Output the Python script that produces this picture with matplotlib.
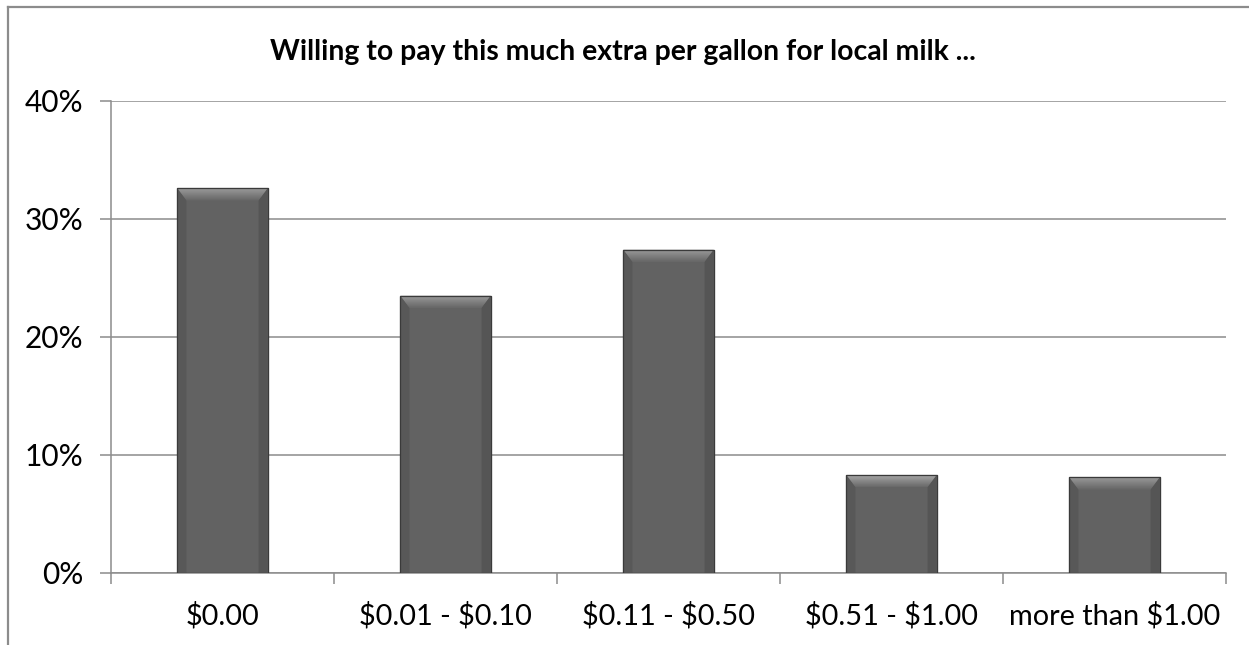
import matplotlib
matplotlib.use('Agg')
import matplotlib.pyplot as plt
import numpy as np
from matplotlib.patches import Polygon, Rectangle
from matplotlib.lines import Line2D

categories = ['$0.00', '$0.01 - $0.10', '$0.11 - $0.50', '$0.51 - $1.00', 'more than $1.00']
shares = [32.6, 23.5, 27.4, 8.3, 8.1]
yticks = [0, 10, 20, 30, 40]
title = 'Willing to pay this much extra per gallon for local milk ...'

plt.rcParams['font.family'] = ['Lato', 'DejaVu Sans']
plt.rcParams['text.parse_math'] = False

W, H, DPI = 1249, 645, 100
fig = plt.figure(figsize=(W / DPI, H / DPI), dpi=DPI)
ax = fig.add_axes([111 / W, 1 - 573 / H, (1226 - 111) / W, (573 - 101) / H])

ymax = 40
nbar = len(categories)
ax.set_xlim(-0.5, nbar - 0.5)
ax.set_ylim(0, ymax)

# pixel size in data units, used for the bevel on each bar
ax_w_px = 1226 - 111
ax_h_px = 573 - 101
px_x = nbar / ax_w_px
px_y = ymax / ax_h_px

bar_w = 0.404
body = '#626262'
x = np.arange(nbar)
ax.bar(x, shares, width=bar_w, color=body, edgecolor='#3c3c3c', linewidth=0.8, zorder=3)

bev_x = 9 * px_x
bev_y = 12 * px_y
for xi, h in zip(x, shares):
    x0, x1 = xi - bar_w / 2, xi + bar_w / 2
    # slightly darker side strips
    ax.add_patch(Polygon([(x0, 0), (x0, h), (x0 + bev_x, h - bev_y), (x0 + bev_x, 0)],
                         closed=True, facecolor='#585858', edgecolor='none', zorder=4))
    ax.add_patch(Polygon([(x1, 0), (x1, h), (x1 - bev_x, h - bev_y), (x1 - bev_x, 0)],
                         closed=True, facecolor='#555555', edgecolor='none', zorder=4))
    # top bevel with a light-to-dark gradient
    n = 12
    shades = np.linspace(0.66, 0.42, n)
    for k in range(n):
        ya = h - bev_y * k / n
        yb = h - bev_y * (k + 1) / n
        da = bev_x * k / n
        db = bev_x * (k + 1) / n
        ax.add_patch(Polygon([(x0 + da, ya), (x1 - da, ya), (x1 - db, yb), (x0 + db, yb)],
                             closed=True, facecolor=str(shades[k]), edgecolor='none', zorder=5))
    ax.add_patch(Rectangle((x0, 0), bar_w, h, facecolor='none', edgecolor='#3a3a3a',
                           linewidth=0.9, zorder=6))

ax.set_yticks(yticks)
ax.set_yticklabels(['{}%'.format(v) for v in yticks])
ax.yaxis.grid(True, color='#8c8c8c', linewidth=1.1, zorder=0)
ax.set_axisbelow(True)

ax.set_xticks(x)
ax.set_xticklabels(categories)
ax.set_xticks(np.arange(-0.5, nbar, 1), minor=True)
ax.tick_params(axis='x', which='major', length=0, pad=21, labelsize=20.8, colors='black')
ax.tick_params(axis='x', which='minor', length=8, width=1.1, color='#8c8c8c', direction='out')
ax.tick_params(axis='y', length=8, width=1.1, color='#8c8c8c', pad=12, labelsize=21.5)

for side in ['top', 'right']:
    ax.spines[side].set_visible(False)
for side in ['left', 'bottom']:
    ax.spines[side].set_color('#8c8c8c')
    ax.spines[side].set_linewidth(1.1)

fig.text(0.499, 1 - 52 / H, title, ha='center', va='center', fontsize=20.4, fontweight='bold')

# chart area border
fig.add_artist(Line2D([8 / W, 8 / W], [0, 1 - 7 / H], color='#8c8c8c', linewidth=1.6))
fig.add_artist(Line2D([8 / W, 1], [1 - 7 / H, 1 - 7 / H], color='#8c8c8c', linewidth=1.6))

fig.savefig('out.png', dpi=DPI)
